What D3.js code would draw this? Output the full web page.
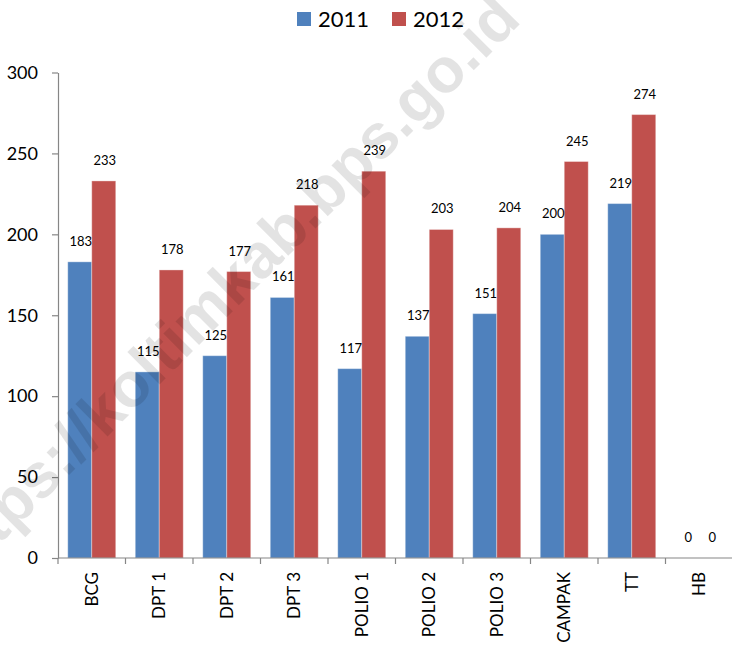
<!DOCTYPE html>
<html>
<head>
<meta charset="utf-8">
<script src="https://cdn.jsdelivr.net/npm/d3@7"></script>
<style>
  html, body { margin: 0; padding: 0; background: #fff; }
  svg { display: block; }
  text { font-family: Lato, "Open Sans", sans-serif; fill: #000; }
</style>
</head>
<body>
<svg id="chart" width="732" height="649"></svg>
<script>
// Immunisation counts per vaccine, 2011 vs 2012
const categories = ["BCG", "DPT 1", "DPT 2", "DPT 3", "POLIO 1", "POLIO 2", "POLIO 3", "CAMPAK", "TT", "HB"];
const years = ["2011", "2012"];
const values2011 = [183, 115, 125, 161, 117, 137, 151, 200, 219, 0];
const values2012 = [233, 178, 177, 218, 239, 203, 204, 245, 274, 0];
const yTicks = [0, 50, 100, 150, 200, 250, 300];
const colors = ["#4F81BD", "#C0504D"];

const seriesValues = [values2011, values2012];
const rows = categories.map((c, i) => ({
  category: c,
  values: years.map((y, j) => ({ year: y, value: seriesValues[j][i], color: colors[j] }))
}));

const svg = d3.select("#chart");
const plot = { left: 58, right: 733, top: 72.5, bottom: 558 };

const x0 = d3.scaleBand()
  .domain(categories)
  .range([plot.left, plot.right])
  .paddingInner(0.289)
  .paddingOuter(0.1445);

const x1 = d3.scaleBand()
  .domain(years)
  .range([0, x0.bandwidth()]);

const y = d3.scaleLinear()
  .domain([0, 300])
  .range([plot.bottom, plot.top]);

// Bars
const groups = svg.append("g")
  .selectAll("g")
  .data(rows)
  .join("g")
  .attr("transform", d => `translate(${x0(d.category)},0)`);

groups.selectAll("rect")
  .data(d => d.values)
  .join("rect")
  .attr("x", d => x1(d.year))
  .attr("y", d => y(d.value))
  .attr("width", x1.bandwidth())
  .attr("height", d => plot.bottom - y(d.value))
  .attr("fill", d => d.color)
  .attr("stroke", "rgba(255,255,255,0.35)")
  .attr("stroke-width", 1);

// Value labels above each bar
groups.selectAll("text.value")
  .data(d => d.values)
  .join("text")
  .attr("class", "value")
  .attr("x", d => x1(d.year) + x1.bandwidth() / 2 + 1)
  .attr("y", d => y(d.value) - 16)
  .attr("text-anchor", "middle")
  .style("font-size", "13px")
  .text(d => d.value);

// Y axis
const yAxis = d3.axisLeft(y)
  .tickValues(yTicks)
  .tickSize(6)
  .tickSizeOuter(0)
  .tickPadding(14);

const yg = svg.append("g")
  .attr("transform", `translate(${plot.left},0)`)
  .call(yAxis);
yg.select(".domain").attr("stroke", "#868686").attr("stroke-width", 1.2);
yg.selectAll(".tick line").attr("stroke", "#868686").attr("stroke-width", 1.2);
yg.selectAll(".tick text")
  .style("font-size", "18px")
  .style("font-family", "Lato, 'Open Sans', sans-serif")
  .attr("fill", "#000");

// X axis baseline with ticks at category boundaries
const xg = svg.append("g");
xg.append("line")
  .attr("x1", plot.left)
  .attr("x2", plot.right)
  .attr("y1", plot.bottom)
  .attr("y2", plot.bottom)
  .attr("stroke", "#868686")
  .attr("stroke-width", 1.2);

const boundaries = categories.map(c => x0(c) - x0.step() * x0.paddingInner() / 2);
xg.selectAll("line.tick")
  .data(boundaries)
  .join("line")
  .attr("class", "tick")
  .attr("x1", d => d)
  .attr("x2", d => d)
  .attr("y1", plot.bottom)
  .attr("y2", plot.bottom + 6)
  .attr("stroke", "#868686")
  .attr("stroke-width", 1.2);

xg.selectAll("text")
  .data(categories)
  .join("text")
  .attr("transform", d => `translate(${x0(d) + x0.bandwidth() / 2},${plot.bottom + 14}) rotate(-90)`)
  .attr("text-anchor", "end")
  .attr("dy", "0.35em")
  .style("font-size", "17px")
  .text(d => d);

// Legend
const legend = svg.append("g").attr("transform", "translate(297,0)");
const legendItems = legend.selectAll("g")
  .data(years)
  .join("g")
  .attr("transform", (d, i) => `translate(${i * 95},0)`);
legendItems.append("rect")
  .attr("x", 0)
  .attr("y", 12)
  .attr("width", 14)
  .attr("height", 14)
  .attr("fill", (d, i) => colors[i]);
legendItems.append("text")
  .attr("x", 21)
  .attr("y", 27)
  .style("font-size", "22px")
  .text(d => d);

// Site watermark
svg.append("text")
  .attr("transform", "translate(-44,588) rotate(-45)")
  .style("font-family", "'Liberation Sans', Arial, sans-serif")
  .style("font-weight", "bold")
  .style("font-size", "63px")
  .attr("fill", "#000")
  .attr("fill-opacity", 0.11)
  .text("https://koltimkab.bps.go.id");
</script>
</body>
</html>
